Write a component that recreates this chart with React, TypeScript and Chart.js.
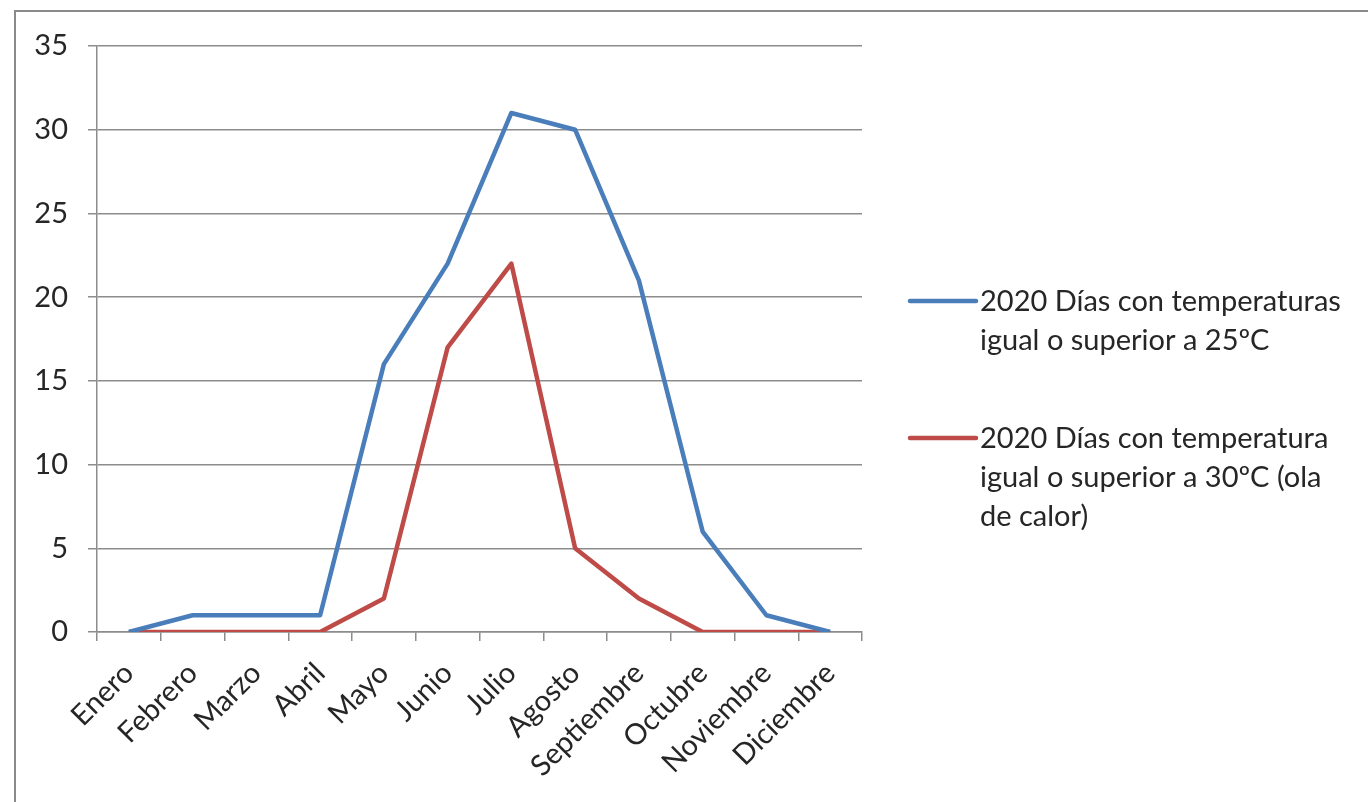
import React, { useEffect, useRef } from "react";
import { Chart, registerables } from "chart.js";

Chart.register(...registerables);

const months = [
  "Enero", "Febrero", "Marzo", "Abril", "Mayo", "Junio",
  "Julio", "Agosto", "Septiembre", "Octubre", "Noviembre", "Diciembre",
];

// Days per month at or above 25 ºC
const days25 = [0, 1, 1, 1, 16, 22, 31, 30, 21, 6, 1, 0];
// Days per month at or above 30 ºC (heat wave)
const days30 = [0, 0, 0, 0, 2, 17, 22, 5, 2, 0, 0, 0];

const label25 = ["2020 Días con temperaturas", "igual o superior a 25ºC"];
const label30 = ["2020 Días con temperatura", "igual o superior a 30ºC (ola", "de calor)"];

const blue = "#4a7ebb";
const red = "#be4b48";
const gridColor = "#8c8c8c";
const textColor = "#262626";
const fontFamily = "Lato, 'Open Sans', sans-serif";
const fontSize = 29;

// Draws the wrapped, multi-line legend on the right side of the canvas
const sideLegend = {
  id: "sideLegend",
  afterDraw(chart: any) {
    const ctx = chart.ctx;
    const lineX0 = 910;
    const lineX1 = 976;
    const textX = 980;
    const lineH = 39;
    const blocks = [
      { y: 301, color: blue, lines: chart.data.datasets[0].labelLines },
      { y: 438, color: red, lines: chart.data.datasets[1].labelLines },
    ];
    ctx.save();
    blocks.forEach((b) => {
      ctx.strokeStyle = b.color;
      ctx.lineWidth = 4.5;
      ctx.lineCap = "round";
      ctx.beginPath();
      ctx.moveTo(lineX0, b.y);
      ctx.lineTo(lineX1, b.y);
      ctx.stroke();
      ctx.fillStyle = textColor;
      ctx.font = `${fontSize}px ${fontFamily}`;
      ctx.textBaseline = "middle";
      ctx.textAlign = "left";
      b.lines.forEach((t: string, i: number) => {
        ctx.fillText(t, textX, b.y + 1 + i * lineH);
      });
    });
    ctx.restore();
  },
};

export default function App() {
  const canvasRef = useRef<HTMLCanvasElement | null>(null);

  useEffect(() => {
    if (!canvasRef.current) return;
    const chart = new Chart(canvasRef.current, {
      type: "line",
      data: {
        labels: months,
        datasets: [
          {
            label: label25.join(" "),
            labelLines: label25,
            data: days25,
            borderColor: blue,
            backgroundColor: blue,
            borderWidth: 4.5,
            pointRadius: 0,
            tension: 0,
            borderJoinStyle: "round",
          } as any,
          {
            label: label30.join(" "),
            labelLines: label30,
            data: days30,
            borderColor: red,
            backgroundColor: red,
            borderWidth: 4.5,
            pointRadius: 0,
            tension: 0,
            borderJoinStyle: "round",
          } as any,
        ],
      },
      options: {
        responsive: false,
        animation: false,
        layout: { padding: { left: 0, right: 506, top: 46, bottom: 0 } },
        plugins: {
          legend: { display: false },
          tooltip: { enabled: false },
        },
        scales: {
          x: {
            offset: true,
            grid: {
              offset: true,
              drawOnChartArea: false,
              drawTicks: true,
              tickLength: 9,
              color: gridColor,
              lineWidth: 1.5,
            },
            border: { color: gridColor, width: 1.5 },
            ticks: {
              maxRotation: 45,
              minRotation: 45,
              autoSkip: false,
              padding: 15,
              color: textColor,
              font: { family: fontFamily, size: fontSize },
            },
            afterFit: (s: any) => {
              s.height = 170;
            },
          },
          y: {
            min: 0,
            max: 35,
            ticks: {
              stepSize: 5,
              padding: 20,
              color: textColor,
              font: { family: fontFamily, size: fontSize },
            },
            grid: {
              color: gridColor,
              lineWidth: 1.5,
              tickLength: 9,
            },
            border: { color: gridColor, width: 1.5 },
            afterFit: (s: any) => {
              s.width = 97;
            },
          },
        },
      },
      plugins: [sideLegend],
    });
    return () => chart.destroy();
  }, []);

  return (
    <div style={{ position: "absolute", left: 0, top: 0, width: 1368, height: 802, background: "#fff" }}>
      <div
        style={{
          position: "absolute",
          left: 14,
          top: 10,
          width: 1360,
          height: 800,
          borderLeft: "2px solid #8a8a8a",
          borderTop: "2px solid #8a8a8a",
        }}
      />
      <canvas ref={canvasRef} width={1368} height={802} style={{ position: "absolute", left: 0, top: 0 }} />
    </div>
  );
}
